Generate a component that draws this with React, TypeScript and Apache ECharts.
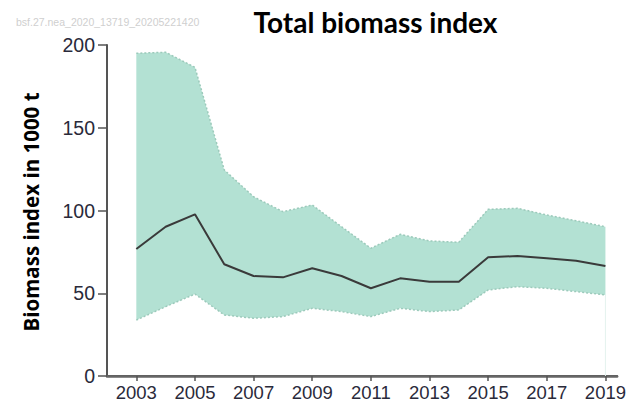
import React, { useEffect, useRef } from "react";
import * as echarts from "echarts";

const years = [2003, 2004, 2005, 2006, 2007, 2008, 2009, 2010, 2011, 2012, 2013, 2014, 2015, 2016, 2017, 2018, 2019];
const meanIndex = [76.7, 90.2, 97.7, 67.5, 60.4, 59.6, 65.1, 60.4, 53, 59, 57, 57, 71.7, 72.5, 71.1, 69.7, 66.5];
const upperBound = [195, 195.6, 186.5, 124.5, 108.3, 99.3, 103.3, 90.2, 77.2, 85.6, 81.6, 80.8, 100.7, 101.3, 97.3, 93.8, 90.2];
const lowerBound = [33.8, 41.9, 49.5, 36.9, 34.9, 35.9, 40.9, 38.9, 35.9, 40.9, 38.9, 39.9, 52, 54, 53, 51, 49];
const xTickYears = [2003, 2005, 2007, 2009, 2011, 2013, 2015, 2017, 2019];
const yTicks = [0, 50, 100, 150, 200];

const titleText = "Total biomass index";
const yTitle = "Biomass index in 1000 t";
const watermark = "bsf.27.nea_2020_13719_20205221420";

export default function App() {
  const ref = useRef<HTMLDivElement>(null);
  useEffect(() => {
    if (!ref.current) return;
    const chart = echarts.init(ref.current, undefined, { renderer: "svg" });
    const lowerData = years.map((y, i) => [y, lowerBound[i]]);
    const upperData = years.map((y, i) => [y, upperBound[i]]);
    const meanData = years.map((y, i) => [y, meanIndex[i]]);
    const edgeStyle = () => ({ color: "#9ccabb", width: 1.5, type: [2, 2] as any });
    chart.setOption({
      animation: false,
      backgroundColor: "#ffffff",
      grid: { left: 107, right: 0, top: 45, bottom: 29, containLabel: false },
      graphic: [
        {
          type: "text",
          x: 375.5,
          y: 22,
          style: {
            text: titleText,
            font: "bold 28px Lato",
            fill: "#000",
            textAlign: "center",
            textVerticalAlign: "middle",
          },
        },
        {
          type: "text",
          x: 16,
          y: 22,
          style: {
            text: watermark,
            font: "10.5px 'Liberation Sans'",
            fill: "#cfcfcf",
            textAlign: "left",
            textVerticalAlign: "middle",
          },
        },
        {
          type: "text",
          x: 31,
          y: 212,
          rotation: Math.PI / 2,
          style: {
            text: yTitle,
            font: "bold 20.5px 'Open Sans'",
            fill: "#000",
            textAlign: "center",
            textVerticalAlign: "middle",
          },
        },
      ],
      xAxis: [
        {
          type: "value",
          min: 2002,
          max: 2019.4,
          splitLine: { show: false },
          axisLine: { show: true, onZero: false, lineStyle: { color: "#555", width: 2 } },
          axisTick: { show: true, customValues: xTickYears, length: 5, lineStyle: { color: "#555", width: 1.5 } },
          axisLabel: {
            customValues: xTickYears,
            formatter: (v: number) => String(v),
            fontFamily: "'Liberation Sans'",
            fontSize: 18.5,
            color: "#2a2a3a",
            margin: 7,
          },
        },
        {
          type: "value",
          position: "top",
          min: 2002,
          max: 2019.4,
          splitLine: { show: false },
          axisLine: { show: true, lineStyle: { color: "#666", width: 2.5 } },
          axisTick: { show: false },
          axisLabel: { show: false },
        },
      ],
      yAxis: {
        type: "value",
        min: 0,
        max: 200,
        interval: 50,
        splitLine: { show: false },
        axisLine: { show: true, lineStyle: { color: "#555", width: 2 } },
        axisTick: { show: true, customValues: yTicks, length: 9, lineStyle: { color: "#555", width: 1.5 } },
        axisLabel: {
          fontFamily: "'Liberation Sans'",
          fontSize: 19.5,
          color: "#2a2a3a",
          margin: 12,
        },
      },
      series: [
        {
          type: "custom",
          data: [0],
          z: 1,
          silent: true,
          renderItem: (_params: any, api: any) => {
            const pts: number[][] = [];
            for (let i = 0; i < years.length; i++) pts.push(api.coord([years[i], upperBound[i]]));
            for (let i = years.length - 1; i >= 0; i--) pts.push(api.coord([years[i], lowerBound[i]]));
            const last = years.length - 1;
            const bottom = api.coord([years[last], 0]);
            const lowEnd = api.coord([years[last], lowerBound[last]]);
            return {
              type: "group",
              children: [
                {
                  type: "polygon",
                  shape: { points: pts },
                  style: { fill: "#b3e1d3", stroke: "none" },
                },
                {
                  type: "line",
                  shape: { x1: lowEnd[0], y1: lowEnd[1], x2: bottom[0], y2: bottom[1] },
                  style: { stroke: "#e4f3ee", lineWidth: 1 },
                },
              ],
            };
          },
        },
        {
          type: "line",
          data: upperData,
          symbol: "none",
          lineStyle: edgeStyle(),
          z: 2,
        },
        {
          type: "line",
          data: lowerData,
          symbol: "none",
          lineStyle: edgeStyle(),
          z: 2,
        },
        {
          type: "line",
          data: meanData,
          symbol: "none",
          lineStyle: { color: "#3a3a3a", width: 2 },
          z: 3,
        },
      ],
    });
    return () => chart.dispose();
  }, []);
  return (
    <div
      ref={ref}
      style={{ position: "fixed", left: 0, top: 0, width: 629, height: 405, background: "#fff" }}
    />
  );
}
